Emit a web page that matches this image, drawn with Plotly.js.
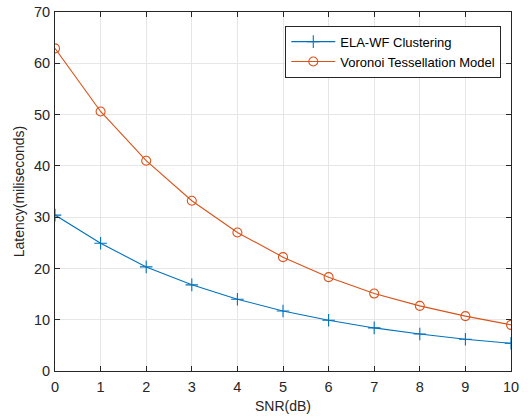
<!DOCTYPE html>
<html><head><meta charset="utf-8">
<script src="https://cdn.plot.ly/plotly-3.0.1.min.js"></script>
<style>html,body{margin:0;padding:0;background:#fff}</style>
</head><body>
<div id="chart" style="width:529px;height:416px"></div>
<script>
const snr = [0,1,2,3,4,5,6,7,8,9,10];
const elaWF = [30.4,24.9,20.3,16.8,14.0,11.7,9.9,8.4,7.2,6.2,5.4];
const voronoi = [62.9,50.6,41.0,33.2,27.0,22.2,18.3,15.1,12.7,10.7,9.0];
const xTicks = [0,1,2,3,4,5,6,7,8,9,10];
const yTicks = [0,10,20,30,40,50,60,70];

const font = "Liberation Sans, Arial, Helvetica, sans-serif";
const traces = [
  {x: snr, y: elaWF, name: 'ELA-WF Clustering', mode: 'lines+markers', type: 'scatter',
   line: {color: '#0072BD', width: 1.1},
   marker: {symbol: 'cross-thin-open', size: 9, color: '#0072BD', line: {color: '#0072BD', width: 1.1}}},
  {x: snr, y: voronoi, name: 'Voronoi Tessellation Model', mode: 'lines+markers', type: 'scatter',
   line: {color: '#D95319', width: 1.1},
   marker: {symbol: 'circle-open', size: 9, color: '#D95319', line: {color: '#D95319', width: 1.1}}}
];
const axisCommon = {
  showline: true, linecolor: '#262626', linewidth: 1, mirror: 'ticks',
  ticks: 'inside', ticklen: 5, tickcolor: '#262626', tickwidth: 1,
  showgrid: true, gridcolor: '#E6E6E6', gridwidth: 1, zeroline: false,
  tickfont: {family: font, size: 14.5, color: '#262626'}
};
const layout = {
  width: 529, height: 416,
  margin: {l: 54.5, r: 18, t: 11.5, b: 45.3},
  paper_bgcolor: '#fff', plot_bgcolor: '#fff',
  showlegend: true,
  legend: {x: 0.505, y: 0.962, xanchor: 'left', yanchor: 'top',
    bgcolor: '#fff', bordercolor: '#262626', borderwidth: 1, itemwidth: 44,
    font: {family: font, size: 13, color: '#000'}, tracegroupgap: 0},
  xaxis: Object.assign({}, axisCommon, {range: [0, 10], tickvals: xTicks, ticklabelstandoff: 3,
    title: {text: 'SNR(dB)', font: {family: font, size: 14, color: '#262626'}, standoff: 6}}),
  yaxis: Object.assign({}, axisCommon, {range: [0, 70], tickvals: yTicks, ticklabelstandoff: 1,
    title: {text: 'Latency(miliseconds)', font: {family: font, size: 14, color: '#262626'}, standoff: 6}})
};
Plotly.newPlot('chart', traces, layout, {displayModeBar: false, staticPlot: true});
</script>
</body></html>
